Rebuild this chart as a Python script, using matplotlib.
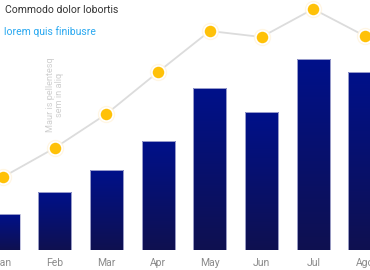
import matplotlib
matplotlib.use("Agg")
import matplotlib.pyplot as plt
import numpy as np
from matplotlib.colors import LinearSegmentedColormap
from matplotlib.patches import Rectangle

months = ["Jan", "Feb", "Mar", "Apr", "May", "Jun", "Jul", "Ago"]
bar_values = [14.4, 23.2, 32.0, 43.6, 64.8, 55.2, 76.4, 71.2]
line_values = [29.2, 40.8, 54.4, 71.2, 87.6, 85.2, 96.4, 85.6]
title_text = "Commodo dolor lobortis"
legend_text = "lorem quis finibusre"
axis_text = "Maur is pellentesq\nsem in aliq"

plt.rcParams['font.family'] = ['Roboto', 'DejaVu Sans']

fig = plt.figure(figsize=(3.7, 2.7), dpi=100)
ax = fig.add_axes([0, 20/270, 1, 250/270])
ax.set_xlim(-3/51.7, 367/51.7)
ax.set_ylim(0, 100)
for s in ax.spines.values():
    s.set_visible(False)
ax.set_yticks([])
x = np.arange(len(months))
ax.set_xticks(x)
ax.set_xticklabels(months, fontsize=7.5, color="#8a8a8a")
ax.tick_params(axis='x', length=0, pad=6)

cmap = LinearSegmentedColormap.from_list("g", ["#0f1050", "#00118a"])
grad = np.linspace(0, 1, 256).reshape(-1, 1)
w = 0.64
bars = ax.bar(x, bar_values, width=w, color="none", edgecolor="#b4b6d8", linewidth=0.6, zorder=3)
for b in bars:
    x0, y0 = b.get_x(), b.get_y()
    bw, bh = b.get_width(), b.get_height()
    im = ax.imshow(grad, extent=[x0, x0 + bw, y0, y0 + bh], origin="lower",
                   cmap=cmap, aspect="auto", zorder=2)
    im.set_clip_path(Rectangle((x0, y0), bw, bh, transform=ax.transData))
ax.set_xlim(-3/51.7, 367/51.7)
ax.set_ylim(0, 100)

ax.plot(x, line_values, color="#dcdcdc", linewidth=1.3, zorder=4)
ax.plot(x, line_values, linestyle="none", marker="o", markersize=12.5,
        markerfacecolor="#fff4dc", markeredgecolor="none", zorder=5, alpha=0.8)
ax.plot(x, line_values, linestyle="none", marker="o", markersize=9.5,
        markerfacecolor="#ffc107", markeredgecolor="white", markeredgewidth=1.2, zorder=6)

fig.text(5/370, 1 - 10/270, title_text, fontsize=7.5, color="#333333", va="center", ha="left")
fig.text(4/370, 1 - 32/270, legend_text, fontsize=7.5, color="#29a8f0", va="center", ha="left")
fig.text(55/370, 1 - 95/270, axis_text, fontsize=6.6, color="#cfcfcf", rotation=90,
         va="center", ha="center", multialignment="center", linespacing=1.0)

fig.savefig("out.png", dpi=100)
